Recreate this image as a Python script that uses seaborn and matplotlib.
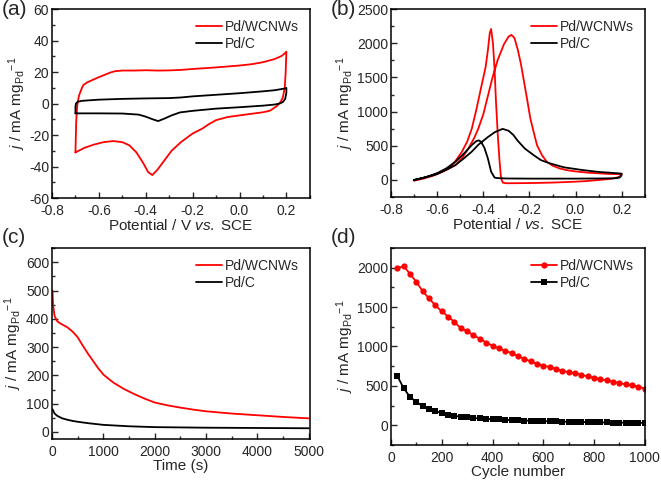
import numpy as np
import pandas as pd
import matplotlib
matplotlib.use("Agg")
import matplotlib.pyplot as plt
from matplotlib.ticker import MultipleLocator
import seaborn as sns

# ---- (a) CV in blank electrolyte ----
a_wc_x = [-0.70, -0.697, -0.693, -0.69, -0.685, -0.675, -0.667, -0.65, -0.62, -0.60, -0.57, -0.55, -0.531,
          -0.50, -0.45, -0.40, -0.35, -0.30, -0.25, -0.20, -0.15, -0.10, -0.05, 0.00, 0.05, 0.10, 0.15, 0.18, 0.194, 0.20,
          0.197, 0.193, 0.185, 0.175, 0.16, 0.13, 0.10, 0.05, 0.00, -0.05, -0.10, -0.13, -0.16, -0.20, -0.25, -0.29,
          -0.32, -0.35, -0.372, -0.39, -0.41, -0.44, -0.47, -0.50, -0.539, -0.58, -0.62, -0.66, -0.70]
a_wc_y = [-31, -12, -2, 1, 5, 9, 11.7, 13.5, 15.5, 16.8, 18.6, 19.8, 20.6,
          21, 21, 21.2, 21, 21.1, 21.4, 22, 22.5, 23, 23.6, 24.2, 25, 26.3, 28.3, 30.3, 32, 33,
          20, 10, 4, 1, -1.5, -4.5, -5.5, -6.5, -7.5, -8.5, -10.5, -13, -16, -19, -24.5, -30,
          -36, -42, -45.4, -43.5, -38, -31, -26.5, -24.5, -23.8, -24.5, -26, -28, -31]
a_c_x = [-0.70, -0.70, -0.698, -0.69, -0.67, -0.60, -0.50, -0.40, -0.30, -0.25, -0.20, -0.10, 0.00, 0.10, 0.15,
         0.19, 0.20, 0.20, 0.195, 0.185, 0.172, 0.15, 0.10, 0.00, -0.10, -0.20, -0.254, -0.29, -0.32, -0.347,
         -0.37, -0.40, -0.43, -0.50, -0.60, -0.70]
a_c_y = [-6.2, -2, 0, 1.2, 1.8, 2.5, 3, 3.3, 3.5, 3.9, 4.6, 5.6, 6.6, 7.8, 8.5,
         9.5, 10, 7, 3, 1, 0.1, -0.6, -1.3, -2.3, -3.2, -4.6, -5.6, -7.5, -9.5, -11.1,
         -10, -8.3, -7, -6.3, -6.2, -6.2]

# ---- (b) CV in ethanol ----
b_wc_x = [-0.70, -0.66, -0.62, -0.592, -0.56, -0.521, -0.49, -0.465, -0.44, -0.422, -0.40, -0.38, -0.36, -0.337,
          -0.31, -0.29, -0.278, -0.265, -0.25, -0.237, -0.224, -0.21, -0.196, -0.18, -0.167, -0.145, -0.125, -0.10,
          -0.07, -0.04, 0.00, 0.05, 0.10, 0.15, 0.20,
          0.195, 0.18, 0.15, 0.10, 0.05, 0.00, -0.10, -0.20, -0.30, -0.315, -0.323, -0.33, -0.337, -0.345, -0.351,
          -0.358, -0.366, -0.372, -0.38, -0.39, -0.408, -0.43, -0.45, -0.47, -0.493, -0.52, -0.549, -0.58, -0.62,
          -0.66, -0.70]
b_wc_y = [-10, 20, 60, 100, 150, 217, 330, 459, 610, 748, 960, 1230, 1500, 1761,
          1990, 2100, 2123, 2080, 1900, 1700, 1450, 1180, 900, 680, 507, 360, 266, 210,
          170, 145, 125, 108, 97, 88, 85,
          60, 35, 15, 0, -15, -25, -38, -45, -48, -40, 24, 300, 651, 1150, 1616,
          2000, 2210, 2150, 1900, 1650, 1375, 1030, 748, 560, 411, 280, 169, 120, 70,
          30, -5]
b_c_x = [-0.70, -0.65, -0.60, -0.56, -0.521, -0.49, -0.451, -0.42, -0.38, -0.35, -0.316, -0.29, -0.27, -0.252,
         -0.22, -0.181, -0.15, -0.11, -0.05, 0.031, 0.10, 0.187, 0.20,
         0.198, 0.19, 0.17, 0.10, 0.00, -0.10, -0.20, -0.30, -0.34, -0.351, -0.366, -0.38, -0.395, -0.41, -0.419,
         -0.43, -0.451, -0.48, -0.521, -0.56, -0.60, -0.65, -0.70]
b_c_y = [0, 40, 85, 150, 217, 300, 411, 520, 628, 700, 748, 720, 660, 579,
         460, 362, 290, 242, 185, 145, 118, 97, 92,
         60, 35, 25, 22, 20, 20, 20, 22, 28, 35, 121, 314, 470, 560, 579,
         570, 507, 400, 266, 170, 100, 40, 0]

# ---- (c) chronoamperometry ----
c_wc_t = [10, 20, 50, 100, 150, 200, 300, 400, 500, 600, 700, 800, 900, 1000, 1100, 1200, 1400, 1600, 1800, 2000,
          2250, 2500, 2750, 3000, 3500, 4000, 4500, 5000]
c_wc_j = [500, 450, 410, 392, 385, 380, 370, 355, 335, 305, 277, 251, 225, 203, 188, 174, 152, 134, 118, 104,
          94, 86, 79, 73, 65, 59, 53, 48]
c_c_t = [10, 50, 100, 200, 300, 400, 500, 700, 1000, 1500, 2000, 2500, 3000, 4000, 5000]
c_c_j = [80, 65, 57, 48, 43, 39, 36, 31, 25, 20, 17, 16, 15, 14, 13]

# ---- (d) cycling ----
d_cycle = [25, 50, 75, 100, 125, 150, 175, 200, 225, 250, 275, 300, 325, 350, 375, 400, 425, 450, 475, 500,
           525, 550, 575, 600, 625, 650, 675, 700, 725, 750, 775, 800, 825, 850, 875, 900, 925, 950, 975, 1000]
d_wc = [1990, 2020, 1920, 1820, 1700, 1610, 1520, 1445, 1380, 1310, 1230, 1195, 1140, 1100, 1050, 1010, 975,
        945, 915, 880, 845, 810, 780, 755, 740, 715, 690, 675, 660, 640, 620, 600, 585, 570, 555, 535, 520,
        505, 490, 465]
d_c = [625, 470, 360, 295, 245, 210, 180, 155, 135, 120, 108, 100, 93, 87, 82, 78, 74, 70, 66, 63,
       60, 57, 55, 52, 50, 48, 46, 44, 42, 41, 40, 38, 37, 36, 35, 34, 33, 32, 31, 30]

samples = ["Pd/WCNWs", "Pd/C"]
palette = {"Pd/WCNWs": "#ff0000", "Pd/C": "#000000"}


def make_df(xw, yw, xc, yc):
    return pd.concat([
        pd.DataFrame({"x": xw, "y": yw, "sample": samples[0]}),
        pd.DataFrame({"x": xc, "y": yc, "sample": samples[1]}),
    ], ignore_index=True)


sns.set_theme(style="ticks")
plt.rcParams["font.family"] = ["Liberation Sans", "DejaVu Sans"]
plt.rcParams["mathtext.fontset"] = "custom"
plt.rcParams["mathtext.rm"] = "Liberation Sans"
plt.rcParams["mathtext.it"] = "Liberation Sans:italic"
plt.rcParams["axes.unicode_minus"] = False
plt.rcParams["xtick.direction"] = "in"
plt.rcParams["ytick.direction"] = "in"

fig = plt.figure(figsize=(6.61, 4.83), dpi=100)
ax_a = fig.add_axes([0.0787, 0.590, 0.390, 0.391])
ax_b = fig.add_axes([0.5915, 0.592, 0.384, 0.389])
ax_c = fig.add_axes([0.0787, 0.0911, 0.390, 0.395])
ax_d = fig.add_axes([0.5915, 0.0787, 0.384, 0.408])

ylab = r"$j$ / mA mg$_{\mathrm{Pd}}$$^{-1}$"
lw = 1.3

sns.lineplot(data=make_df(a_wc_x, a_wc_y, a_c_x, a_c_y), x="x", y="y", hue="sample", palette=palette,
             sort=False, estimator=None, linewidth=lw, ax=ax_a)
sns.lineplot(data=make_df(b_wc_x, b_wc_y, b_c_x, b_c_y), x="x", y="y", hue="sample", palette=palette,
             sort=False, estimator=None, linewidth=lw, ax=ax_b)
sns.lineplot(data=make_df(c_wc_t, c_wc_j, c_c_t, c_c_j), x="x", y="y", hue="sample", palette=palette,
             sort=False, estimator=None, linewidth=lw, ax=ax_c)
sns.lineplot(data=make_df(d_cycle, d_wc, d_cycle, d_c), x="x", y="y", hue="sample", style="sample",
             palette=palette, markers={"Pd/WCNWs": "o", "Pd/C": "s"}, dashes=False, markersize=4.5,
             markeredgewidth=0, sort=False, estimator=None, linewidth=lw, ax=ax_d)

ax_a.set_xlim(-0.8, 0.3)
ax_a.set_ylim(-60, 60)
ax_a.xaxis.set_major_locator(MultipleLocator(0.2))
ax_a.xaxis.set_minor_locator(MultipleLocator(0.1))
ax_a.yaxis.set_major_locator(MultipleLocator(20))
ax_a.yaxis.set_minor_locator(MultipleLocator(10))
ax_a.set_xlabel(r"Potential / V $vs.$ SCE")

ax_b.set_xlim(-0.8, 0.3)
ax_b.set_ylim(-250, 2500)
ax_b.xaxis.set_major_locator(MultipleLocator(0.2))
ax_b.xaxis.set_minor_locator(MultipleLocator(0.1))
ax_b.yaxis.set_major_locator(MultipleLocator(500))
ax_b.yaxis.set_minor_locator(MultipleLocator(250))
ax_b.set_xlabel(r"Potential / $vs.$ SCE")

ax_c.set_xlim(0, 5020)
ax_c.set_ylim(-25, 650)
ax_c.xaxis.set_major_locator(MultipleLocator(1000))
ax_c.xaxis.set_minor_locator(MultipleLocator(500))
ax_c.yaxis.set_major_locator(MultipleLocator(100))
ax_c.yaxis.set_minor_locator(MultipleLocator(50))
ax_c.set_xlabel("Time (s)")

ax_d.set_xlim(0, 1000)
ax_d.set_ylim(-250, 2250)
ax_d.xaxis.set_major_locator(MultipleLocator(200))
ax_d.xaxis.set_minor_locator(MultipleLocator(100))
ax_d.yaxis.set_major_locator(MultipleLocator(500))
ax_d.yaxis.set_minor_locator(MultipleLocator(250))
ax_d.set_xlabel("Cycle number")

for ax in [ax_a, ax_b, ax_c, ax_d]:
    ax.set_ylabel(ylab, fontsize=11, labelpad=1)
    ax.xaxis.label.set_size(11)
    ax.xaxis.labelpad = 0
    ax.tick_params(which="both", top=False, right=False, labelsize=10, width=1)
    ax.tick_params(axis="x", pad=4.5)
    ax.tick_params(axis="y", pad=2)
    ax.tick_params(which="major", length=4)
    ax.tick_params(which="minor", length=2.5)
    for sp in ax.spines.values():
        sp.set_visible(True)
        sp.set_linewidth(1.1)
        sp.set_color("black")
    h, l = ax.get_legend_handles_labels()
    ax.legend(h, l, loc="upper right", frameon=False, fontsize=10, handlelength=1.9,
              handletextpad=0.2, labelspacing=0.2, borderaxespad=0.4)

# panel tags
fig.text(0.002, 0.999, "(a)", fontsize=15, va="top", ha="left")
fig.text(0.500, 0.999, "(b)", fontsize=15, va="top", ha="left")
fig.text(0.002, 0.527, "(c)", fontsize=15, va="top", ha="left")
fig.text(0.500, 0.527, "(d)", fontsize=15, va="top", ha="left")

fig.savefig("out.png", dpi=100)
